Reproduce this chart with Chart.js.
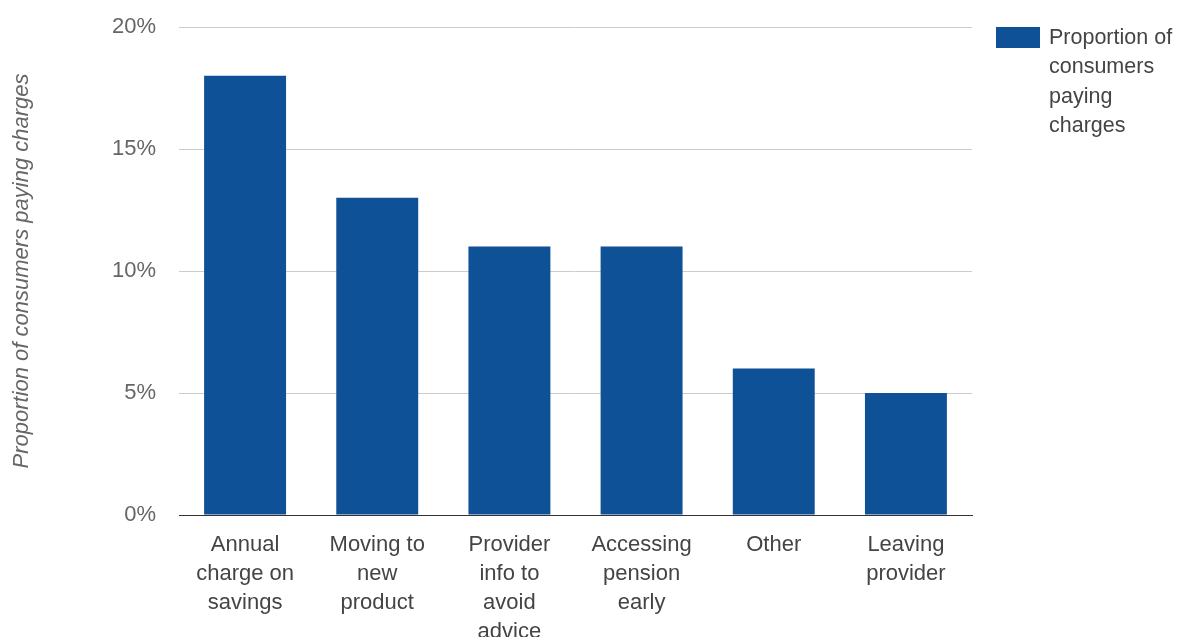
<!DOCTYPE html>
<html>
<head>
<meta charset="utf-8">
<script src="https://cdn.jsdelivr.net/npm/chart.js@4.4.1/dist/chart.umd.min.js"></script>
<style>
  html, body { margin: 0; padding: 0; background: #fff; }
  #wrap { width: 1187px; height: 637px; position: relative; }
</style>
</head>
<body>
<div id="wrap"><canvas id="chargesChart"></canvas></div>
<script>
// values
var categories = [
    ["Annual", "charge on", "savings"],
    ["Moving to", "new", "product"],
    ["Provider", "info to", "avoid", "advice"],
    ["Accessing", "pension", "early"],
    ["Other"],
    ["Leaving", "provider"]
];
var proportionPaying = [18, 13, 11, 11, 6, 5];
var yTicks = [0, 5, 10, 15, 20];
var seriesName = "Proportion of consumers paying charges";
var legendLines = ["Proportion of", "consumers", "paying", "charges"];

var barBlue = "#0e5196";
var fontFam = "'Liberation Sans', Arial, sans-serif";

// legend drawn on the right, wrapped like the original
var sideLegend = {
    id: "sideLegend",
    afterDraw: function (chart) {
        var ctx = chart.ctx;
        ctx.save();
        ctx.fillStyle = barBlue;
        ctx.fillRect(996, 27, 44, 21);
        ctx.font = "21.5px " + fontFam;
        ctx.fillStyle = "#444";
        ctx.textBaseline = "middle";
        ctx.textAlign = "left";
        legendLines.forEach(function (line, i) {
            ctx.fillText(line, 1049, 38 + i * 29.5);
        });
        ctx.restore();
    }
};

var ctx = document.getElementById("chargesChart");
var chart = new Chart(ctx, {
    type: "bar",
    data: {
        labels: categories,
        datasets: [{
            label: seriesName,
            data: proportionPaying,
            backgroundColor: barBlue,
            borderWidth: 0,
            barPercentage: 0.62,
            categoryPercentage: 1
        }]
    },
    options: {
        responsive: true,
        maintainAspectRatio: false,
        animation: false,
        layout: { padding: { top: 27, right: 215, bottom: 0, left: 0 } },
        plugins: {
            legend: { display: false },
            tooltip: { enabled: false }
        },
        scales: {
            x: {
                grid: { display: false, drawTicks: false },
                border: { display: true, color: "#333", width: 1 },
                ticks: {
                    color: "#444",
                    font: { family: fontFam, size: 22, lineHeight: 1.32 },
                    padding: 15,
                    maxRotation: 0,
                    autoSkip: false
                },
                afterFit: function (scale) { scale.height = 122; }
            },
            y: {
                min: 0,
                max: 20,
                afterBuildTicks: function (scale) {
                    scale.ticks = yTicks.map(function (v) { return { value: v }; });
                },
                grid: { color: "#cccccc", drawTicks: false },
                border: { display: false },
                ticks: {
                    color: "#666",
                    // small lineHeight keeps the label from pushing the plot down
                    font: { family: fontFam, size: 22, lineHeight: 0.18 },
                    padding: 23,
                    callback: function (v) { return v + "%"; }
                },
                title: {
                    display: true,
                    text: seriesName,
                    color: "#666",
                    font: { family: fontFam, size: 22, style: "italic" },
                    padding: { top: 9, bottom: 0 }
                },
                afterFit: function (scale) { scale.width = 179; }
            }
        }
    },
    plugins: [sideLegend]
});
</script>
</body>
</html>
